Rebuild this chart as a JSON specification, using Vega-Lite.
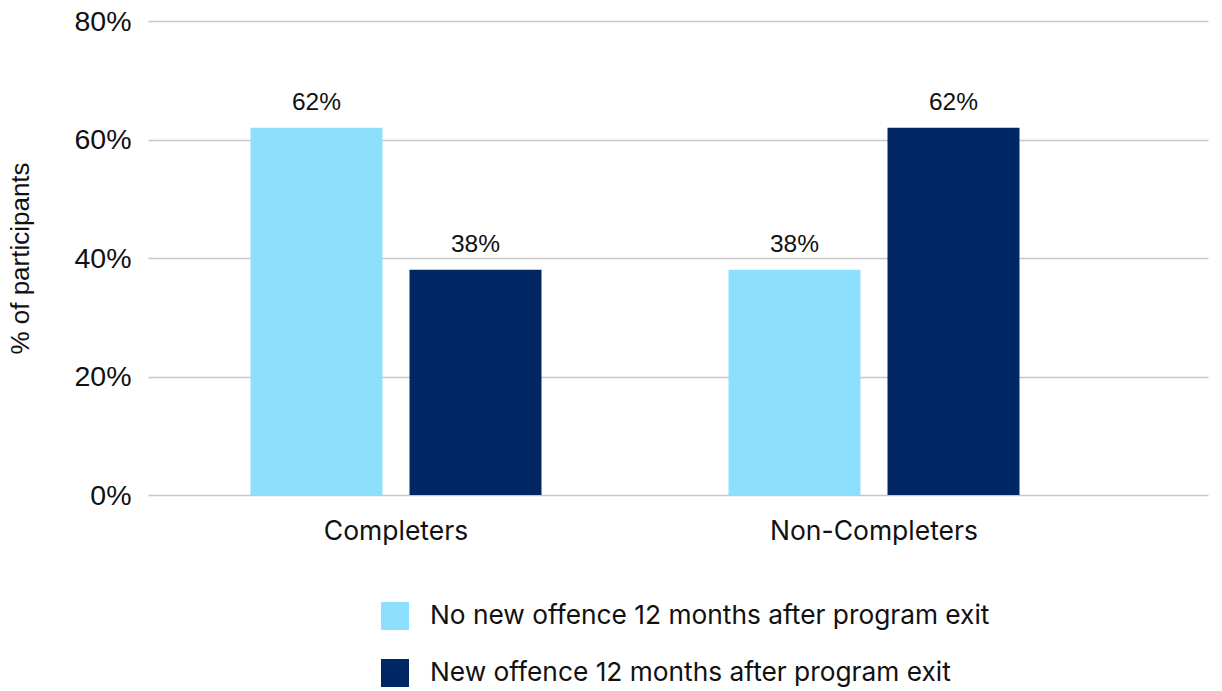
{
  "$schema": "https://vega.github.io/schema/vega-lite/v6.json",
  "width": 1060,
  "height": 474,
  "autosize": {"type": "none"},
  "padding": {"left": 148, "top": 21, "right": 14, "bottom": 196},
  "background": "white",
  "data": {
    "values": [
      {"group": "Completers", "outcome": "No new offence 12 months after program exit", "value": 0.62},
      {"group": "Completers", "outcome": "New offence 12 months after program exit", "value": 0.38},
      {"group": "Non-Completers", "outcome": "No new offence 12 months after program exit", "value": 0.38},
      {"group": "Non-Completers", "outcome": "New offence 12 months after program exit", "value": 0.62}
    ]
  },
  "encoding": {
    "x": {
      "field": "group",
      "type": "nominal",
      "sort": ["Completers", "Non-Completers"],
      "scale": {"paddingInner": 0, "paddingOuter": 0.1088, "align": 0.0865},
      "axis": {
        "title": null,
        "labelAngle": 0,
        "domain": false,
        "ticks": false,
        "labelFont": "Inter",
        "labelFontSize": 26.5,
        "labelColor": "#111111",
        "labelPadding": 23,
        "labelLimit": 600
      }
    },
    "xOffset": {
      "field": "outcome",
      "type": "nominal",
      "sort": ["No new offence 12 months after program exit", "New offence 12 months after program exit"],
      "scale": {"paddingInner": 0.17, "paddingOuter": 0.588}
    },
    "y": {
      "field": "value",
      "type": "quantitative",
      "scale": {"domain": [0, 0.8]},
      "axis": {
        "title": "% of participants",
        "format": ".0%",
        "values": [0, 0.2, 0.4, 0.6, 0.8],
        "domain": false,
        "ticks": false,
        "grid": true,
        "gridColor": "#c8c8c8",
        "gridWidth": 1.5,
        "labelFont": "Liberation Sans",
        "labelFontSize": 28.5,
        "labelColor": "#111111",
        "labelPadding": 17,
        "titleFont": "Liberation Sans",
        "titleFontSize": 26,
        "titleFontWeight": "normal",
        "titleColor": "#111111",
        "titlePadding": 40
      }
    }
  },
  "layer": [
    {
      "mark": {"type": "bar"},
      "encoding": {
        "color": {
          "field": "outcome",
          "type": "nominal",
          "scale": {
            "domain": ["No new offence 12 months after program exit", "New offence 12 months after program exit"],
            "range": ["#8ce0fd", "#002664"]
          },
          "legend": {
            "title": null,
            "orient": "none",
            "legendX": 233,
            "legendY": 581,
            "direction": "vertical",
            "padding": 0,
            "symbolType": "square",
            "symbolSize": 784,
            "symbolStrokeWidth": 0,
            "symbolOpacity": 1,
            "labelFont": "Inter",
            "labelFontSize": 26.3,
            "labelColor": "#111111",
            "labelOffset": 21,
            "labelLimit": 800,
            "rowPadding": 29
          }
        }
      }
    },
    {
      "mark": {
        "type": "text",
        "baseline": "bottom",
        "dy": -13,
        "font": "Liberation Sans",
        "fontSize": 24.5,
        "color": "#111111"
      },
      "encoding": {
        "text": {"field": "value", "type": "quantitative", "format": ".0%"}
      }
    }
  ],
  "config": {"view": {"stroke": null}}
}
